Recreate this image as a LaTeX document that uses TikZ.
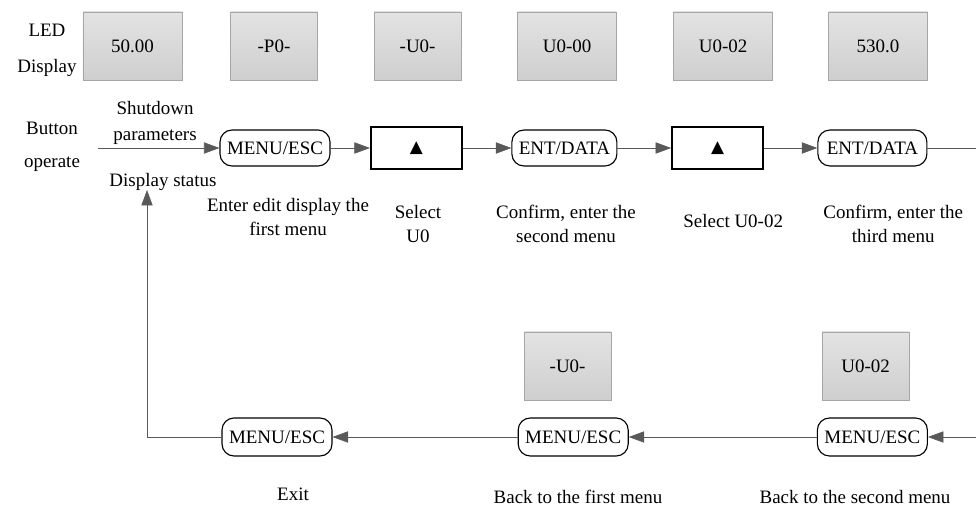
\documentclass[tikz,border=0pt]{standalone}
\usepackage{fontspec}
\setmainfont{Liberation Serif}
\newfontfamily\symfont{DejaVu Sans}
\usetikzlibrary{arrows.meta}

\begin{document}
\begin{tikzpicture}[
  font=\fontsize{13.5}{17}\selectfont,
  led/.style={draw=gray!70, top color=gray!22, bottom color=gray!38, minimum width=2.475cm, minimum height=1.7cm},
  ledsmall/.style={led, minimum width=2.175cm},
  key/.style={draw, line width=0.8pt, rounded corners=0.3cm, minimum width=2.75cm, minimum height=0.9cm, inner sep=1pt},
  upkey/.style={draw, line width=1.4pt, minimum width=2.275cm, minimum height=1.05cm, font=\symfont\fontsize{12}{14}\selectfont},
  txt/.style={align=center},
  flow/.style={draw=black!65, -{Triangle[length=11pt,width=8pt]}}
]
  \useasboundingbox (0,0) rectangle (24.4,12.7);
  % display row
  \node[txt, font=\fontsize{13.5}{25}\selectfont] (ledlbl) at (1.175,11.44) {LED\\Display};
  \node[led] (d1) at (3.31,11.55) {50.00};
  \node[ledsmall] (d2) at (6.85,11.55) {-P0-};
  \node[ledsmall] (d3) at (10.44,11.55) {-U0-};
  \node[led] (d4) at (14.18,11.55) {U0-00};
  \node[led] (d5) at (18.08,11.55) {U0-02};
  \node[led] (d6) at (21.95,11.55) {530.0};

  % button row
  \node[txt, font=\fontsize{13.5}{23}\selectfont] (btnlbl) at (1.3,9.03) {Button\\operate};
  \node[txt, font=\fontsize{13.5}{18.5}\selectfont] (shut) at (3.875,9.625) {Shutdown\\parameters};
  \node[txt] (status) at (4.075,8.15) {Display status};
  \coordinate (start) at (2.45,9.0);
  \node[key] (m1) at (6.875,9.0) {MENU/ESC};
  \node[upkey] (u1) at (10.41,9.0) {▲};
  \node[key, minimum width=2.625cm] (e1) at (14.11,9.0) {ENT/DATA};
  \node[upkey] (u2) at (17.94,9.0) {▲};
  \node[key, minimum width=2.725cm] (e2) at (21.81,9.0) {ENT/DATA};
  \coordinate (topend) at (24.4,9.0);

  \draw[flow] (start) -- (m1);
  \draw[flow] (m1) -- (u1);
  \draw[flow] (u1) -- (e1);
  \draw[flow] (e1) -- (u2);
  \draw[flow] (u2) -- (e2);
  \draw[draw=black!65] (e2) -- (topend);

  \node[txt] at (7.2,7.275) {Enter edit display the\\first menu};
  \node[txt] at (10.45,7.1) {Select\\U0};
  \node[txt] at (14.15,7.1) {Confirm, enter the\\second menu};
  \node[txt] at (18.33,7.175) {Select U0-02};
  \node[txt] at (22.33,7.1) {Confirm, enter the\\third menu};

  % return row
  \node[ledsmall] (r1) at (14.19,3.55) {-U0-};
  \node[ledsmall] (r2) at (21.64,3.55) {U0-02};
  \coordinate (botstart) at (24.4,1.775);
  \node[key, minimum height=0.95cm] (b3) at (21.81,1.775) {MENU/ESC};
  \node[key, minimum height=0.95cm] (b2) at (14.33,1.775) {MENU/ESC};
  \node[key, minimum height=0.95cm] (b1) at (6.925,1.775) {MENU/ESC};
  \coordinate (corner) at (3.675,1.775);
  \coordinate (back) at (3.675,7.95);

  \draw[flow] (botstart) -- (b3);
  \draw[flow] (b3) -- (b2);
  \draw[flow] (b2) -- (b1);
  \draw[flow] (b1) -- (corner) -- (back);

  \node[txt] at (7.325,0.35) {Exit};
  \node[txt] at (14.45,0.275) {Back to the first menu};
  \node[txt] at (21.375,0.275) {Back to the second menu};
\end{tikzpicture}
\end{document}
